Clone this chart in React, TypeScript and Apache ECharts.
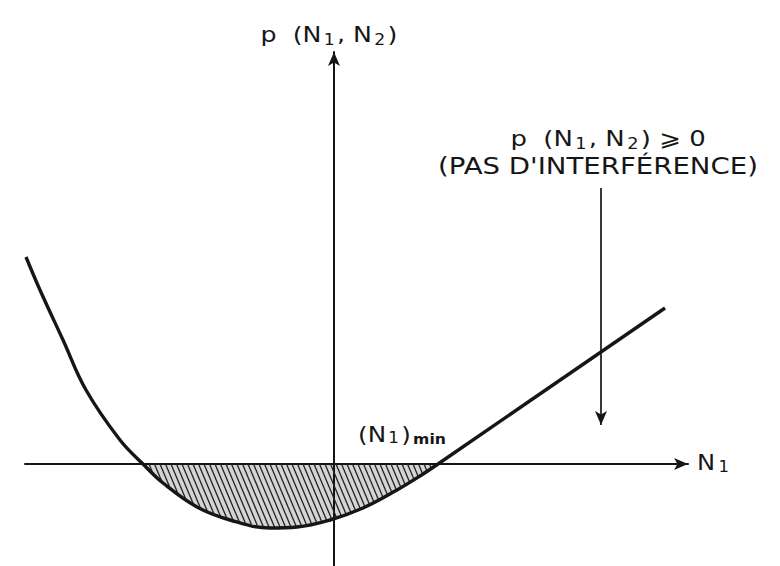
import React, { useEffect, useRef } from "react";
import * as echarts from "echarts";

// Curve p(N1, N2) (axis units, origin at the axes crossing)
const curveX = [-30.8, -29.4, -27.1, -24.8, -21.4, -19.1, -17.1, -13.7, -10.4, -6.4, -3.7, -0.4, 2.9, 6.3, 8.6, 10.4];
const curveY = [20.7, 17.4, 12.4, 7.4, 2.4, 0, -1.9, -4.3, -5.6, -6.4, -6.3, -5.6, -4.4, -2.6, -1.2, 0];
// Straight part beyond (N1)min
const lineX = [10.4, 33.1];
const lineY = [0, 15.6];
// Arrow pointing to the p >= 0 part
const arrowX = 26.7;
const arrowY = [27.6, 3.9];
// Axis extents
const xRange = [-30.9, 35.4];
const yRange = [-10.2, 41.2];

const INK = "#161616";
const FONT = "'DejaVu Sans', 'Liberation Sans', Arial, sans-serif";

export default function App() {
  const ref = useRef<HTMLDivElement>(null);
  useEffect(() => {
    document.body.style.margin = "0";
    const chart = echarts.init(ref.current!, null, { renderer: "svg" });
    const curveData = curveX.map((x, i) => [x, curveY[i]]);
    const lineData = lineX.map((x, i) => [x, lineY[i]]);
    const below = curveData.filter((p) => p[1] <= 0);

    const renderHatch = (params: any, api: any) => {
      const pts = below.map((p) => api.coord(p));
      const y0 = api.coord([0, 0])[1];
      const children: any[] = [
        { type: "polygon", shape: { points: pts }, style: { fill: "rgba(0,0,0,0.17)", stroke: "none" } },
      ];
      const dx = 0.42, dy = 1;
      const xmin = pts[0][0] - 5;
      const xmax = pts[pts.length - 1][0];
      const n = pts.length;
      for (let x0 = xmin; x0 < xmax; x0 += 5.5) {
        const ts: number[] = [];
        for (let i = 0; i < n; i++) {
          const B = pts[i];
          const C = pts[(i + 1) % n];
          const ex = C[0] - B[0], ey = C[1] - B[1];
          const den = dx * ey - dy * ex;
          if (Math.abs(den) < 1e-9) continue;
          const wx = B[0] - x0, wy = B[1] - y0;
          const t = (wx * ey - wy * ex) / den;
          const s = (wx * dy - wy * dx) / den;
          if (s >= 0 && s <= 1 && t >= -0.01) ts.push(t);
        }
        ts.sort((a, b) => a - b);
        const uniq: number[] = [];
        ts.forEach((t) => { if (!uniq.length || Math.abs(t - uniq[uniq.length - 1]) > 0.01) uniq.push(t); });
        for (let k = 0; k + 1 < uniq.length; k += 2) {
          children.push({
            type: "line",
            shape: { x1: x0 + dx * uniq[k], y1: y0 + dy * uniq[k], x2: x0 + dx * uniq[k + 1], y2: y0 + dy * uniq[k + 1] },
            style: { stroke: "#222222", lineWidth: 1.3 },
          });
        }
      }
      return { type: "group", children };
    };

    const axisCommon = {
      type: "value" as const,
      axisLine: { show: true, onZero: true, symbol: ["none", "arrow"], symbolSize: [9, 14], lineStyle: { color: INK, width: 2 } },
      axisTick: { show: false },
      axisLabel: { show: false },
      splitLine: { show: false },
    };

    const main = { fontSize: 22, fontFamily: FONT, fill: INK };
    const sub = { fontSize: 15, fontFamily: FONT, fill: INK, padding: [9, 2, 0, 2] };

    chart.setOption({
      animation: false,
      backgroundColor: "#ffffff",
      grid: { left: 25, right: 92, top: 52, bottom: 0 },
      xAxis: { ...axisCommon, min: xRange[0], max: xRange[1] },
      yAxis: { ...axisCommon, min: yRange[0], max: yRange[1] },
      series: [
        { type: "custom", renderItem: renderHatch, data: [[0, 0]], silent: true, z: 1 },
        {
          type: "line", data: curveData, smooth: 0.4, showSymbol: false, silent: true, z: 3,
          lineStyle: { color: INK, width: 3.4 },
          markLine: {
            silent: true, symbol: ["none", "arrow"], symbolSize: [9, 14],
            label: { show: false },
            lineStyle: { color: INK, width: 1.7, type: "solid" },
            data: [[{ coord: [arrowX, arrowY[0]] }, { coord: [arrowX, arrowY[1]] }]],
          },
        },
        { type: "line", data: lineData, showSymbol: false, silent: true, z: 3, lineStyle: { color: INK, width: 3.4 } },
      ],
      graphic: [
        {
          type: "text", x: 329, y: 35, scaleX: 1.15,
          style: { text: "{a|p  (N}{s|1}{a|, N}{s|2}{a|)}", align: "center", verticalAlign: "middle", rich: { a: main, s: sub } },
        },
        {
          type: "text", x: 608, y: 139, scaleX: 1.18,
          style: { text: "{a|p  (N}{s|1}{a|, N}{s|2}{a|) ⩾ 0}", align: "center", verticalAlign: "middle", rich: { a: main, s: sub } },
        },
        {
          type: "text", x: 598, y: 166, scaleX: 1.2,
          style: { text: "(PAS D'INTERFÉRENCE)", align: "center", verticalAlign: "middle", fontSize: 23, fontFamily: FONT, fill: INK },
        },
        {
          type: "text", x: 402, y: 434, scaleX: 1.12,
          style: {
            text: "{a|(N}{s|1}{a|)}{m|min}", align: "center", verticalAlign: "middle",
            rich: { a: main, s: { ...sub, padding: [8, 2, 0, 2] }, m: { fontSize: 14, fontWeight: "bold", fontFamily: FONT, fill: INK, padding: [10, 0, 0, 2] } },
          },
        },
        {
          type: "text", x: 697, y: 462, scaleX: 1.1,
          style: { text: "{a|N}{s|1}", align: "left", verticalAlign: "middle", rich: { a: main, s: { ...sub, padding: [9, 0, 0, 3] } } },
        },
      ],
    });
    return () => chart.dispose();
  }, []);
  return <div ref={ref} style={{ width: 780, height: 566 }} />;
}
